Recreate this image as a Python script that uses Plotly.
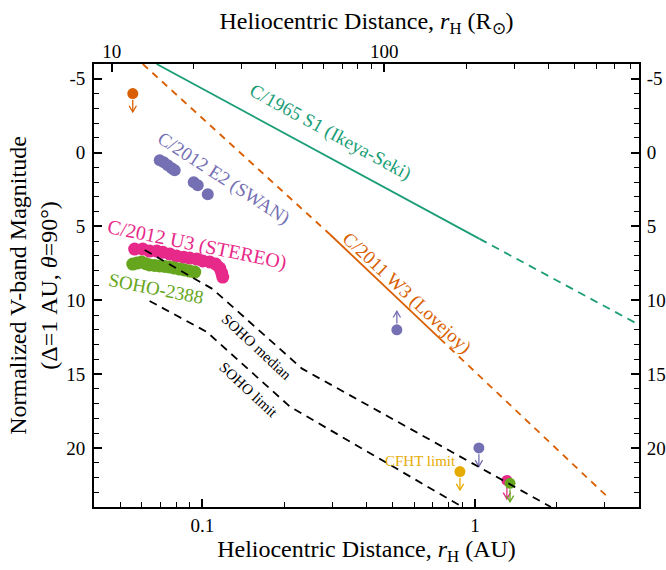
import numpy as np
import plotly.graph_objects as go

AU_TO_RSUN = 215.03
FONT = "Liberation Serif"

# Colours (Dark2)
C_IKEYA = "#1b9e77"
C_LOVEJOY = "#d95f02"
C_SWAN = "#7570b3"
C_STEREO = "#e7298a"
C_SOHO = "#66a61e"
C_CFHT = "#e6ab02"

# ---- data: heliocentric distance (AU) and normalized V magnitude ----
ikeya_solid_r = [0.0679, 1.04]
ikeya_solid_m = [-6.0, 5.84]
ikeya_dash_r = [1.04, 4.0]
ikeya_dash_m = [5.84, 11.66]

lovejoy_dash1_r = [0.0604, 0.2934]
lovejoy_dash1_m = [-6.0, 5.53]
lovejoy_solid_r = [0.2934, 0.744]
lovejoy_solid_m = [5.53, 12.6]
lovejoy_dash2_r = [0.744, 3.08]
lovejoy_dash2_m = [12.6, 23.35]

soho_median_r = [0.0614, 0.109, 0.232, 1.90]
soho_median_m = [6.60, 9.24, 14.63, 24.0]
soho_limit_r = [0.0640, 0.1037, 0.2093, 0.881]
soho_limit_m = [10.05, 12.14, 17.2, 23.9]

swan_r = [0.0697, 0.0721, 0.0746, 0.0772, 0.0791, 0.0929, 0.0961, 0.1046]
swan_m = [0.52, 0.66, 0.86, 1.06, 1.20, 2.01, 2.21, 2.82]

stereo_r = [0.0564, 0.0604, 0.0640, 0.0680, 0.0715, 0.0759, 0.0804, 0.0854,
            0.0898, 0.0953, 0.1003, 0.1064, 0.1119, 0.1157, 0.1177, 0.1187]
stereo_m = [6.53, 6.53, 6.67, 6.67, 6.74, 6.87, 7.01, 7.08,
            7.14, 7.21, 7.34, 7.41, 7.55, 7.82, 8.15, 8.43]

soho2388_r = [0.0555, 0.0575, 0.0598, 0.0620, 0.0640, 0.0668, 0.0697, 0.0728,
              0.0759, 0.0790, 0.0825, 0.0860, 0.0898, 0.0937]
soho2388_m = [7.55, 7.48, 7.41, 7.52, 7.61, 7.64, 7.68, 7.71,
              7.75, 7.82, 7.89, 7.95, 8.02, 8.09]

# single measurements with limit arrows
lim_r = [0.0555, 0.517, 1.034, 0.881, 1.31, 1.345]
lim_m = [-4.0, 12.0, 20.0, 21.6, 22.2, 22.4]
lim_c = [C_LOVEJOY, C_SWAN, C_SWAN, C_CFHT, C_STEREO, C_SOHO]
lim_dir = ["down", "up", "down", "down", "down", "down"]

# axis ticks
x_major = [0.1, 1]
x_major_text = ["0.1", "1"]
x_minor = [0.05, 0.06, 0.07, 0.08, 0.09, 0.2, 0.3, 0.4, 0.5, 0.6, 0.7, 0.8, 0.9, 2, 3, 4]
xt_major = [10, 100]
xt_major_text = ["10", "100"]
xt_minor = [20, 30, 40, 50, 60, 70, 80, 90, 200, 300, 400, 500, 600, 700, 800]
y_major = [-5, 0, 5, 10, 15, 20]
y_major_text = ["-5", "0", "5", "10", "15", "20"]
y_minor = list(range(-6, 25))

X_RANGE = [0.04, 4.0]
Y_RANGE = [24, -6]

fig = go.Figure()


def line(r, m, color, dash=None, width=1.8):
    fig.add_trace(go.Scatter(x=r, y=m, mode="lines",
                             line=dict(color=color, width=width, dash=dash),
                             showlegend=False, hoverinfo="skip"))


def dots(r, m, color, size=12):
    fig.add_trace(go.Scatter(x=r, y=m, mode="markers",
                             marker=dict(color=color, size=size, line=dict(width=0)),
                             showlegend=False, hoverinfo="skip"))


# model curves
line(ikeya_solid_r, ikeya_solid_m, C_IKEYA)
line(ikeya_dash_r, ikeya_dash_m, C_IKEYA, dash="8px,6px")
line(lovejoy_dash1_r, lovejoy_dash1_m, C_LOVEJOY, dash="7px,6px")
line(lovejoy_solid_r, lovejoy_solid_m, C_LOVEJOY)
line(lovejoy_dash2_r, lovejoy_dash2_m, C_LOVEJOY, dash="7px,6px")

# photometry
dots(swan_r, swan_m, C_SWAN)
dots(stereo_r, stereo_m, C_STEREO, 13)
dots(soho2388_r, soho2388_m, C_SOHO, 13)

# limit arrows: stem from the dot edge to the tip, plus an open V head
STEM_START = 0.42   # mag
STEM_TIP = 1.25     # mag
HEAD_LEN = 0.42     # mag
HEAD_HALF = 0.0135  # decades in r
for r, m, c, d in zip(lim_r, lim_m, lim_c, lim_dir):
    s = 1 if d == "down" else -1
    tip = m + s * STEM_TIP
    back = tip - s * HEAD_LEN
    rl, rr = r * 10 ** (-HEAD_HALF), r * 10 ** HEAD_HALF
    fig.add_trace(go.Scatter(
        x=[r, r, None, rl, r, rr],
        y=[m + s * STEM_START, tip, None, back, tip, back],
        mode="lines", line=dict(color=c, width=1.3),
        showlegend=False, hoverinfo="skip"))

for r, m, c in zip(lim_r, lim_m, lim_c):
    dots([r], [m], c, 11)

# SOHO reference curves
line(soho_median_r, soho_median_m, "black", dash="8px,6px")
line(soho_limit_r, soho_limit_m, "black", dash="8px,6px")

# helper traces so the secondary axes are drawn
fig.add_trace(go.Scatter(x=[X_RANGE[0] * AU_TO_RSUN], y=[0], xaxis="x2", yaxis="y",
                         mode="markers", marker=dict(opacity=0), showlegend=False,
                         hoverinfo="skip"))
fig.add_trace(go.Scatter(x=[X_RANGE[0]], y=[0], xaxis="x", yaxis="y2",
                         mode="markers", marker=dict(opacity=0), showlegend=False,
                         hoverinfo="skip"))

annotations = []

# curve / object labels
labels = [
    ("C/1965 S1 (Ikeya-Seki)", 0.2934, -1.37, 28.4, C_IKEYA, 19),
    ("C/2011 W3 (Lovejoy)", 0.5627, 9.5, 43.0, C_LOVEJOY, 19),
    ("C/2012 E2 (SWAN)", 0.1190, 1.75, 33.0, C_SWAN, 19),
    ("C/2012 U3 (STEREO)", 0.0953, 6.2, 11.5, C_STEREO, 20),
    ("SOHO-2388", 0.0674, 9.22, 11.0, C_SOHO, 19),
    ("SOHO median", 0.1582, 13.16, 43.0, "black", 15),
    ("SOHO limit", 0.148, 16.06, 43.0, "black", 15),
    ("CFHT limit", 0.6334, 20.88, 0.0, C_CFHT, 15),
]
for text, r, m, ang, c, fs in labels:
    annotations.append(dict(
        x=np.log10(r), y=m, xref="x", yref="y", text=text, showarrow=False,
        textangle=ang, font=dict(family=FONT, size=fs, color=c),
        xanchor="center", yanchor="middle"))

axis_common = dict(
    showline=True, linecolor="black", linewidth=1.8, showgrid=False, zeroline=False,
    ticks="inside", ticklen=8, tickwidth=1.6, tickcolor="black", automargin=False,
    tickfont=dict(family=FONT, size=19, color="black"), tickmode="array",
)
minor_common = dict(tickmode="array", ticks="inside", ticklen=5,
                    tickwidth=1.4, tickcolor="black", showgrid=False)
TITLE_FONT = dict(family=FONT, size=24, color="black")

fig.update_layout(
    width=666, height=570,
    margin=dict(l=94, r=27, t=64, b=63),
    paper_bgcolor="white", plot_bgcolor="white",
    font=dict(family=FONT, color="black"),
    annotations=annotations,
    xaxis=dict(
        type="log", range=[np.log10(X_RANGE[0]), np.log10(X_RANGE[1])],
        tickvals=x_major, ticktext=x_major_text,
        minor=dict(tickvals=x_minor, **minor_common),
        title=dict(text="Heliocentric Distance, <i>r</i><sub>H</sub> (AU)",
                   font=TITLE_FONT, standoff=5),
        ticklabelstandoff=0,
        **axis_common),
    xaxis2=dict(
        type="log", overlaying="x", side="top",
        range=[np.log10(X_RANGE[0] * AU_TO_RSUN), np.log10(X_RANGE[1] * AU_TO_RSUN)],
        tickvals=xt_major, ticktext=xt_major_text,
        minor=dict(tickvals=xt_minor, **minor_common),
        title=dict(text="Heliocentric Distance, <i>r</i><sub>H</sub> (R<sub>⊙</sub>)",
                   font=TITLE_FONT, standoff=4),
        ticklabelstandoff=-3,
        **axis_common),
    yaxis=dict(
        range=Y_RANGE, tickvals=y_major, ticktext=y_major_text,
        minor=dict(tickvals=y_minor, **minor_common),
        title=dict(text="Normalized V-band Magnitude<br>(Δ=1 AU, <i>θ</i>=90°)",
                   font=TITLE_FONT, standoff=2),
        ticklabelstandoff=3,
        **axis_common),
    yaxis2=dict(
        overlaying="y", side="right", range=Y_RANGE,
        tickvals=y_major, ticktext=y_major_text,
        minor=dict(tickvals=y_minor, **minor_common),
        ticklabelstandoff=2,
        **axis_common),
)

fig.write_html("out.html")
